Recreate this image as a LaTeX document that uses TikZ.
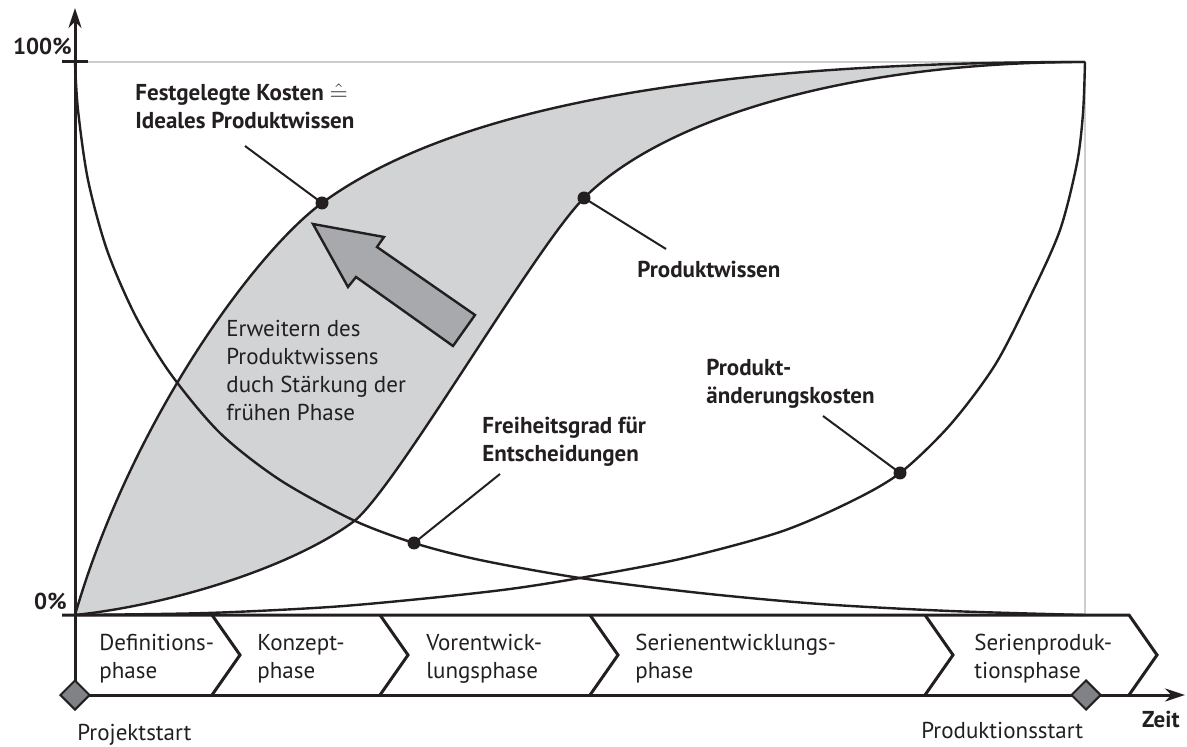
\documentclass[tikz,border=0pt]{standalone}
\usepackage{fontspec}
\setmainfont{PT Sans}
\usetikzlibrary{arrows.meta}
\usetikzlibrary{shapes.geometric}

\definecolor{ink}{HTML}{231F20}
\definecolor{knowgray}{HTML}{D1D3D4}
\definecolor{arrowgray}{HTML}{A7A9AC}
\definecolor{milegray}{HTML}{808285}
\definecolor{guidegray}{HTML}{CDCDCD}

\begin{document}
\begin{tikzpicture}[
            x = 0.5pt, y = -0.5pt, % pixel grid
            > = {Stealth[length=10pt,width=6.5pt]},
            every node/.style = {inner sep=0pt, text=ink, font=\fontsize{11.5}{14}\selectfont},
            curve/.style = {draw=ink, line width=1.2pt},
            axis/.style = {draw=ink, line width=1.5pt},
            guide/.style = {draw=guidegray, line width=1pt},
            curvetext/.style = {font=\fontsize{11.5}{14}\selectfont\bfseries, anchor=base west, align=left},
            plaintext/.style = {anchor=base west, align=left},
            dot/.style = {circle, fill=ink, minimum size=6.5pt},
            leader/.style = {draw=ink, line width=1pt},
            milestone/.style = {diamond, draw=ink, fill=milegray, line width=1pt,
                minimum width=15pt, minimum height=15pt, aspect=1}
        ]

        \useasboundingbox (0,0) rectangle (1187,747);

	% 100% guide lines
        \draw[guide] (88,62) -- (1085,62) -- (1085,615);

	% area between the two knowledge curves
        \fill[knowgray] (75,615) .. controls (130,425) and (252,255) .. (322,203)
            .. controls (452,108) and (700,62) .. (1085,62)
            .. controls (850,62) and (664,118) .. (584,198)
            .. controls (534,248) and (393,493) .. (353,522)
            .. controls (290,568) and (170,605) .. (75,615) -- cycle;

	% curves
        \draw[curve] (75,615) .. controls (130,425) and (252,255) .. (322,203)
            .. controls (452,108) and (700,62) .. (1085,62);
        \draw[curve] (75,615) .. controls (170,605) and (290,568) .. (353,522)
            .. controls (393,493) and (534,248) .. (584,198)
            .. controls (664,118) and (850,62) .. (1085,62);
        \draw[curve] plot[smooth] coordinates {(75,62) (78,110) (88,180) (107,250) (135,315) (170,373)
            (220,433) (280,480) (353,520) (414,543) (480,560) (580,578) (700,593) (820,604) (950,611) (1085,615)};
        \draw[curve] plot[smooth] coordinates {(75,615) (207,613) (330,607) (430,598) (510,589) (580,578)
            (680,559) (780,532) (850,502) (900,473) (950,425) (995,365) (1031,295) (1060,230) (1077,163)
            (1083,113) (1085,62)};

	% shift arrow
        \draw[fill=arrowgray, draw=ink, line width=1.2pt] (313,224) -- (384,237) -- (377,247) -- (475,315)
            -- (453,346) -- (356,277) -- (348,287) -- cycle;

	% axes and phase band
        \draw[axis] (62,615) -- (1129,615) -- (1157,655) -- (1129,695);
        \foreach \cx in {212,380,590,925}
            \draw[axis] (\cx,615) -- (\cx+28,655) -- (\cx,695);
        \draw[axis] (62,62) -- (88,62);
        \draw[axis,->] (75,695) -- (1185,695);
        \draw[axis,->] (75,695) -- (75,8);

        \node[curvetext, anchor=base east] (full) at (72,55) {100\%};
        \node[curvetext, anchor=base east] (zero) at (67,610) {0\%};
        \node[curvetext, anchor=base east] (zeit) at (1180,727) {Zeit};

	% phases
        \foreach \px/\pname/\ptext in {99/def/{Definitions-\\phase}, 257/konz/{Konzept-\\phase},
                426/vor/{Vorentwick-\\lungsphase}, 635/ser/{Serienentwicklungs-\\phase},
                974/prod/{Serienproduk-\\tionsphase}}
            \node[plaintext] (phase-\pname) at (\px,678) {\ptext};

	% milestones
        \node[milestone] (projstart) at (75,695) {};
        \node[milestone] (prodstart) at (1086,695) {};
        \node[plaintext] (projtext) at (77,740) {Projektstart};
        \node[plaintext] (prodtext) at (921,738) {Produktionsstart};

	% curve labels
        \node[dot] (kostendot) at (322,203) {};
        \node[dot] (wissendot) at (584,198) {};
        \node[dot] (freidot) at (414,543) {};
        \node[dot] (aenddot) at (900,473) {};

        \coordinate (kostenend) at (245,146);
        \coordinate (wissenend) at (666,249);
        \coordinate (freiend) at (500,474);
        \coordinate (aendend) at (823,416);

        \draw[leader] (kostenend) -- (kostendot.center);
        \draw[leader] (wissendot.center) -- (wissenend);
        \draw[leader] (freidot.center) -- (freiend);
        \draw[leader] (aendend) -- (aenddot.center);

        \node[curvetext] (kosten) at (135,129) {Festgelegte Kosten $\hat{=}$\\Ideales Produktwissen};
        \node[curvetext] (wissen) at (637,278) {Produktwissen};
        \node[curvetext] (aend) at (706,404) {Produkt-\\änderungskosten};
        \node[curvetext] (frei) at (482,462) {Freiheitsgrad für\\Entscheidungen};

        \node[plaintext] (erweitern) at (226,421) {Erweitern des\\Produktwissens\\duch Stärkung der\\frühen Phase};

\end{tikzpicture}
\end{document}
